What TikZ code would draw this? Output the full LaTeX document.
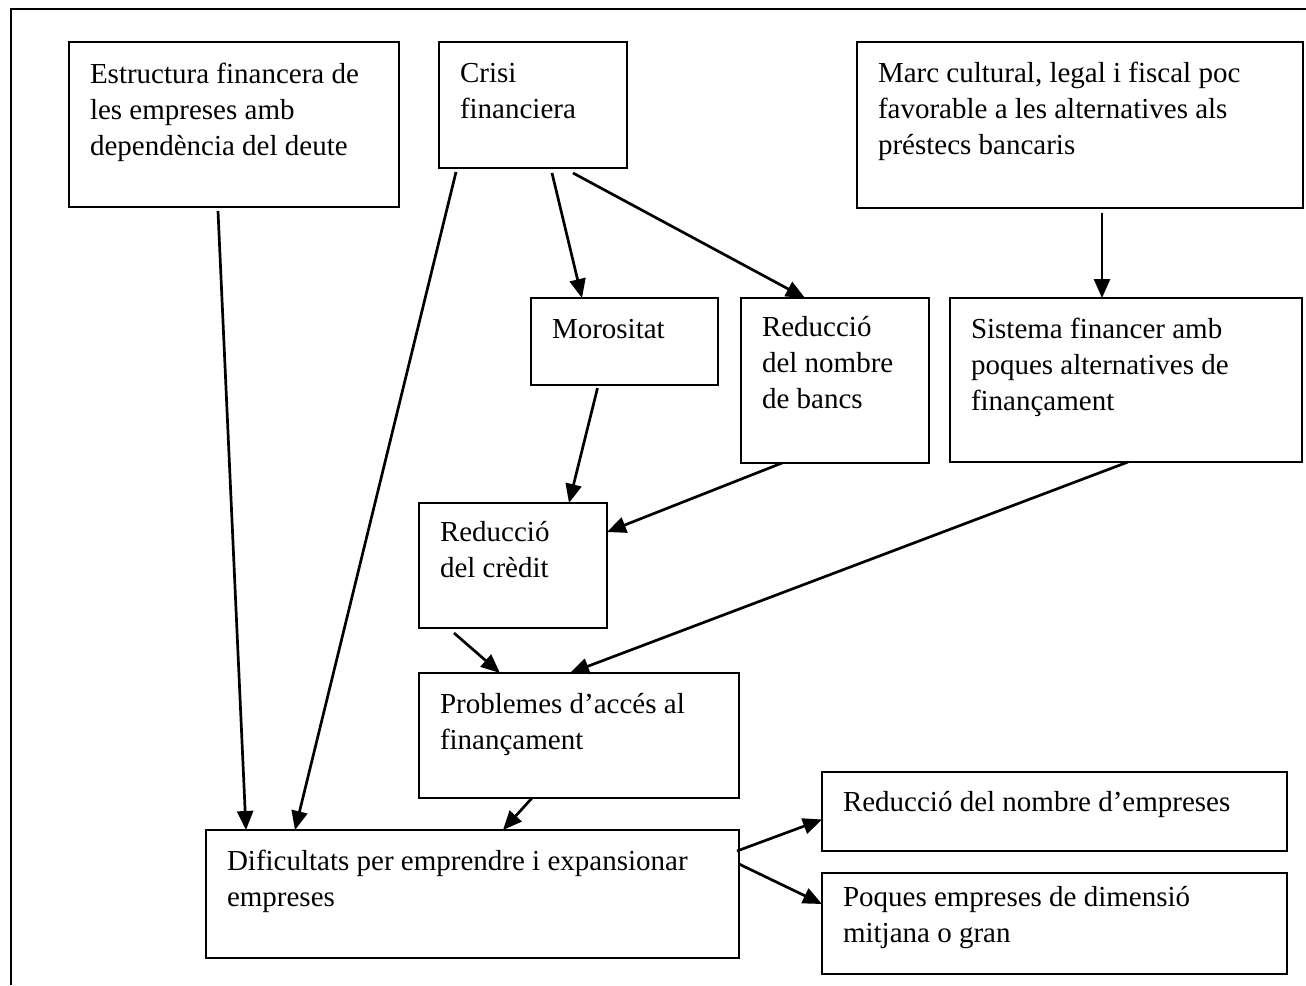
\documentclass[tikz,border=0pt]{standalone}
\usepackage{fontspec}
\setmainfont{Liberation Serif}
\usetikzlibrary{arrows.meta,calc}
\definecolor{ink}{RGB}{0,0,0}

\tikzset{
  cbox/.style={draw=ink,line width=2pt,anchor=north west,outer sep=0pt,
    inner xsep=21pt,inner ysep=0pt,font=\fontsize{29}{36}\selectfont},
  link/.style={draw=ink,line width=2.7pt,-{Triangle[length=19pt,width=16pt]}}
}
% text of a box: [gap above] {width} {height} {lines}
\newcommand{\cell}[4][15]{%
  \parbox[c][#3pt][t]{#2pt}{\vspace*{#1pt}\raggedright\strut #4}}

\begin{document}
\begin{tikzpicture}[x=1pt,y=-1pt]
  \useasboundingbox (0,0) rectangle (1306,985);
  \draw[ink,line width=2pt] (11,985) -- (11,9) -- (1306,9);

  \node[cbox] (estr) at (69,42) {\cell[16]{288}{165}{Estructura financera de\\
    les empreses amb\\ dependència del deute}};
  \node[cbox] (crisi) at (439,42) {\cell{146}{126}{Crisi\\ financiera}};
  \node[cbox] (marc) at (857,42) {\cell[15]{404}{166}{Marc cultural, legal i fiscal poc\\
    favorable a les alternatives als\\ préstecs bancaris}};
  \node[cbox] (moros) at (531,298) {\cell{145}{87}{Morositat}};
  \node[cbox] (bancs) at (741,298) {\cell[13]{146}{165}{Reducció\\ del nombre\\ de bancs}};
  \node[cbox] (sist) at (950,298) {\cell{310}{164}{Sistema financer amb\\
    poques alternatives de\\ finançament}};
  \node[cbox] (credit) at (419,503) {\cell[13]{146}{125}{Reducció\\ del crèdit}};
  \node[cbox] (probl) at (419,673) {\cell{278}{125}{Problemes d’accés al\\ finançament}};
  \node[cbox] (dific) at (206,830) {\cell{491}{128}{Dificultats per emprendre i expansionar\\
    empreses}};
  \node[cbox] (reduc) at (822,772) {\cell[14]{423}{79}{Reducció del nombre d’empreses}};
  \node[cbox] (poques) at (822,873) {\cell[8]{423}{101}{Poques empreses de dimensió\\
    mitjana o gran}};

  \draw[link] ($(estr.south)+(-16,4)$) -- ($(dific.north west)+(40,0)$);
  \draw[link] ($(crisi.south west)+(17,4)$) -- ($(dific.north west)+(89,0)$);
  \draw[link] ($(crisi.south)+(19,5)$) -- ($(moros.north west)+(51,0)$);
  \draw[link] ($(crisi.south)+(40,5)$) -- ($(bancs.north west)+(64,0)$);
  \draw[link] ($(marc.south)+(22,5)$) -- ($(sist.north west)+(152,0)$);
  \draw[link] ($(moros.south)+(-27,3)$) -- ($(credit.north west)+(150,0)$);
  \draw[link] ($(bancs.south west)+(41,0)$) -- ($(credit.north east)+(0,29)$);
  \draw[link] ($(sist.south west)+(178,0)$) -- ($(probl.north west)+(151,0)$);
  \draw[link] ($(credit.south west)+(35,5)$) -- ($(probl.north west)+(81,0)$);
  \draw[link] ($(probl.south west)+(113,0)$) -- ($(dific.north west)+(297,0)$);
  \draw[link] ($(dific.north east)+(-2,21)$) -- ($(reduc.west)+(0,8)$);
  \draw[link] ($(dific.north east)+(0,34)$) -- ($(poques.north west)+(0,31)$);
\end{tikzpicture}
\end{document}
